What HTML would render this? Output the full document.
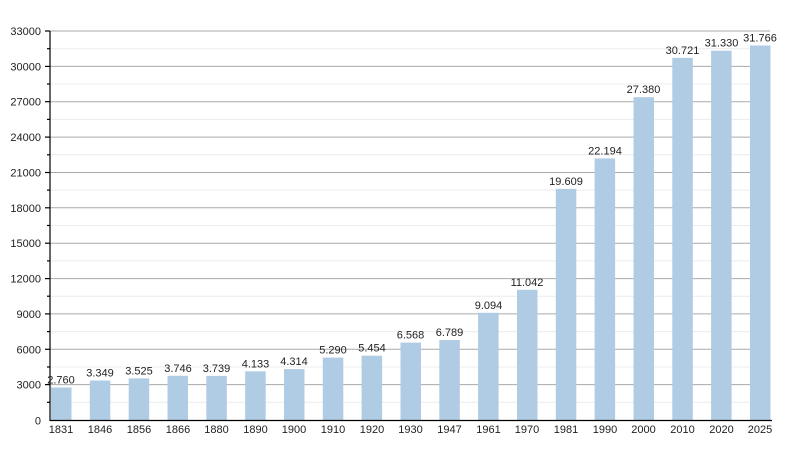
<!DOCTYPE html>
<html><head><meta charset="utf-8"><style>body{margin:0;background:#fff}svg{display:block}text{font-family:"Liberation Sans",Arial,sans-serif;font-size:11px;fill:#222}</style></head><body>
<svg width="800" height="450" xmlns="http://www.w3.org/2000/svg">
<g stroke="#ececec" stroke-width="1">
<line x1="50" x2="770" y1="402.3" y2="402.3"/><line x1="50" x2="770" y1="367" y2="367"/><line x1="50" x2="770" y1="331.6" y2="331.6"/><line x1="50" x2="770" y1="296.2" y2="296.2"/><line x1="50" x2="770" y1="260.9" y2="260.9"/><line x1="50" x2="770" y1="225.5" y2="225.5"/><line x1="50" x2="770" y1="190.1" y2="190.1"/><line x1="50" x2="770" y1="154.8" y2="154.8"/><line x1="50" x2="770" y1="119.4" y2="119.4"/><line x1="50" x2="770" y1="84" y2="84"/><line x1="50" x2="770" y1="48.7" y2="48.7"/>
</g>
<g stroke="#aaa" stroke-width="1">
<line x1="50" x2="770" y1="384.6" y2="384.6"/><line x1="50" x2="770" y1="349.3" y2="349.3"/><line x1="50" x2="770" y1="313.9" y2="313.9"/><line x1="50" x2="770" y1="278.6" y2="278.6"/><line x1="50" x2="770" y1="243.2" y2="243.2"/><line x1="50" x2="770" y1="207.8" y2="207.8"/><line x1="50" x2="770" y1="172.5" y2="172.5"/><line x1="50" x2="770" y1="137.1" y2="137.1"/><line x1="50" x2="770" y1="101.7" y2="101.7"/><line x1="50" x2="770" y1="66.4" y2="66.4"/><line x1="50" x2="770" y1="31" y2="31"/>
</g>
<g fill="#b0cbe4">
<rect x="51" y="387.5" width="20.5" height="32.5"/><rect x="89.8" y="380.5" width="20.5" height="39.5"/><rect x="128.7" y="378.4" width="20.5" height="41.6"/><rect x="167.5" y="375.8" width="20.5" height="44.2"/><rect x="206.3" y="375.9" width="20.5" height="44.1"/><rect x="245.2" y="371.3" width="20.5" height="48.7"/><rect x="284" y="369.1" width="20.5" height="50.9"/><rect x="322.8" y="357.6" width="20.5" height="62.4"/><rect x="361.6" y="355.7" width="20.5" height="64.3"/><rect x="400.5" y="342.6" width="20.5" height="77.4"/><rect x="439.3" y="340" width="20.5" height="80"/><rect x="478.1" y="312.8" width="20.5" height="107.2"/><rect x="517" y="289.8" width="20.5" height="130.2"/><rect x="555.8" y="188.9" width="20.5" height="231.1"/><rect x="594.6" y="158.4" width="20.5" height="261.6"/><rect x="633.5" y="97.2" width="20.5" height="322.8"/><rect x="672.3" y="57.9" width="20.5" height="362.1"/><rect x="711.1" y="50.7" width="20.5" height="369.3"/><rect x="750" y="45.5" width="20.5" height="374.5"/>
</g>
<g stroke="#000" stroke-width="1.2">
<line x1="50" x2="50" y1="31" y2="421"/><line x1="50" x2="772" y1="420.5" y2="420.5"/>
<line x1="45" x2="50" y1="384.6" y2="384.6"/><line x1="45" x2="50" y1="349.3" y2="349.3"/><line x1="45" x2="50" y1="313.9" y2="313.9"/><line x1="45" x2="50" y1="278.6" y2="278.6"/><line x1="45" x2="50" y1="243.2" y2="243.2"/><line x1="45" x2="50" y1="207.8" y2="207.8"/><line x1="45" x2="50" y1="172.5" y2="172.5"/><line x1="45" x2="50" y1="137.1" y2="137.1"/><line x1="45" x2="50" y1="101.7" y2="101.7"/><line x1="45" x2="50" y1="66.4" y2="66.4"/><line x1="45" x2="50" y1="31" y2="31"/>
<line x1="47" x2="50" y1="402.3" y2="402.3"/><line x1="47" x2="50" y1="367" y2="367"/><line x1="47" x2="50" y1="331.6" y2="331.6"/><line x1="47" x2="50" y1="296.2" y2="296.2"/><line x1="47" x2="50" y1="260.9" y2="260.9"/><line x1="47" x2="50" y1="225.5" y2="225.5"/><line x1="47" x2="50" y1="190.1" y2="190.1"/><line x1="47" x2="50" y1="154.8" y2="154.8"/><line x1="47" x2="50" y1="119.4" y2="119.4"/><line x1="47" x2="50" y1="84" y2="84"/><line x1="47" x2="50" y1="48.7" y2="48.7"/>
</g>
<g text-anchor="end">
<text x="41" y="424.5">0</text><text x="41" y="388.6">3000</text><text x="41" y="353.3">6000</text><text x="41" y="317.9">9000</text><text x="41" y="282.6">12000</text><text x="41" y="247.2">15000</text><text x="41" y="211.8">18000</text><text x="41" y="176.5">21000</text><text x="41" y="141.1">24000</text><text x="41" y="105.7">27000</text><text x="41" y="70.4">30000</text><text x="41" y="35">33000</text>
</g>
<g text-anchor="middle">
<text x="61" y="383.5">2.760</text><text x="100" y="376.5">3.349</text><text x="139" y="374.4">3.525</text><text x="178" y="371.8">3.746</text><text x="216.5" y="371.9">3.739</text><text x="255.5" y="367.3">4.133</text><text x="294" y="365.1">4.314</text><text x="333" y="353.6">5.290</text><text x="372" y="351.7">5.454</text><text x="410.5" y="338.6">6.568</text><text x="449.5" y="336">6.789</text><text x="488.5" y="308.8">9.094</text><text x="527" y="285.8">11.042</text><text x="566" y="184.9">19.609</text><text x="605" y="154.4">22.194</text><text x="643.5" y="93.2">27.380</text><text x="682.5" y="53.9">30.721</text><text x="721.5" y="46.7">31.330</text><text x="760" y="41.5">31.766</text>
</g>
<g text-anchor="middle">
<text x="61" y="433">1831</text><text x="100" y="433">1846</text><text x="139" y="433">1856</text><text x="178" y="433">1866</text><text x="216.5" y="433">1880</text><text x="255.5" y="433">1890</text><text x="294" y="433">1900</text><text x="333" y="433">1910</text><text x="372" y="433">1920</text><text x="410.5" y="433">1930</text><text x="449.5" y="433">1947</text><text x="488.5" y="433">1961</text><text x="527" y="433">1970</text><text x="566" y="433">1981</text><text x="605" y="433">1990</text><text x="643.5" y="433">2000</text><text x="682.5" y="433">2010</text><text x="721.5" y="433">2020</text><text x="760" y="433">2025</text>
</g>
</svg>
</body></html>
